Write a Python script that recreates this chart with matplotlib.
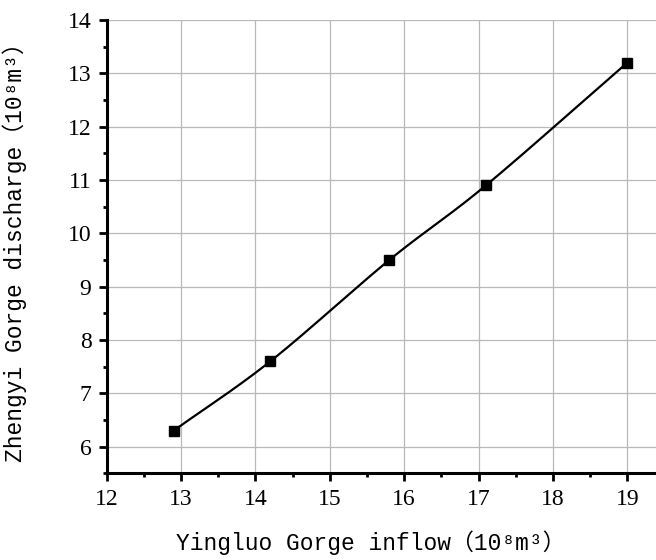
import numpy as np
import matplotlib
matplotlib.use("Agg")
import matplotlib.pyplot as plt
from matplotlib.ticker import MultipleLocator

# Inflow at Yingluo Gorge vs. discharge at Zhengyi Gorge (10^8 m^3)
inflow = [12.9, 14.2, 15.8, 17.1, 19.0]
discharge = [6.3, 7.6, 9.5, 10.9, 13.2]
x_ticks = [12, 13, 14, 15, 16, 17, 18, 19]
y_ticks = [6, 7, 8, 9, 10, 11, 12, 13, 14]

xlabel = "Yingluo Gorge inflow（10⁸m³）"
ylabel = "Zhengyi Gorge discharge（10⁸m³）"

plt.rcParams["font.family"] = ["Liberation Serif", "DejaVu Serif"]


def catmull_rom(xs, ys, n=40):
    """Smooth curve passing through every given point."""
    p = np.column_stack([xs, ys]).astype(float)
    p = np.vstack([2 * p[0] - p[1], p, 2 * p[-1] - p[-2]])
    out = []
    t = np.linspace(0, 1, n)[:, None]
    for i in range(1, len(p) - 2):
        p0, p1, p2, p3 = p[i - 1], p[i], p[i + 1], p[i + 2]
        seg = 0.5 * ((2 * p1) + (-p0 + p2) * t
                     + (2 * p0 - 5 * p1 + 4 * p2 - p3) * t ** 2
                     + (-p0 + 3 * p1 - 3 * p2 + p3) * t ** 3)
        out.append(seg if i == 1 else seg[1:])
    c = np.vstack(out)
    return c[:, 0], c[:, 1]


fig = plt.figure(figsize=(6.56, 5.6), dpi=100)
ax = fig.add_axes([0.1627, 0.1548, 0.8373, 0.8095])

cx, cy = catmull_rom(inflow, discharge)
ax.plot(cx, cy, color="black", lw=1.6, zorder=3)
ax.plot(inflow, discharge, ls="none", marker="s", ms=7.5, color="black", zorder=4)

ax.set_xlim(12, 19.386)
ax.set_ylim(5.5, 14)
ax.set_xticks(x_ticks)
ax.set_yticks(y_ticks)
ax.xaxis.set_minor_locator(MultipleLocator(0.5))
ax.yaxis.set_minor_locator(MultipleLocator(0.5))

ax.grid(True, which="major", color="#b8b8b8", lw=0.9, zorder=0)
ax.set_axisbelow(True)

for s in ("top", "right"):
    ax.spines[s].set_visible(False)
for s in ("left", "bottom"):
    ax.spines[s].set_linewidth(2.2)

ax.tick_params(which="major", direction="out", length=6, width=2.0,
               labelsize=17, pad=5)
ax.tick_params(which="minor", direction="out", length=3, width=2.0)

label_font = ["Liberation Mono", "Noto Sans CJK SC", "DejaVu Sans"]
ax.set_xlabel(xlabel, fontsize=16.5, family=label_font)
ax.set_ylabel(ylabel, fontsize=16.5, family=label_font)
ax.xaxis.set_label_coords(0.481, -0.125)
ax.yaxis.set_label_coords(-0.145, 0.5)

fig.savefig("out.png", dpi=100)
